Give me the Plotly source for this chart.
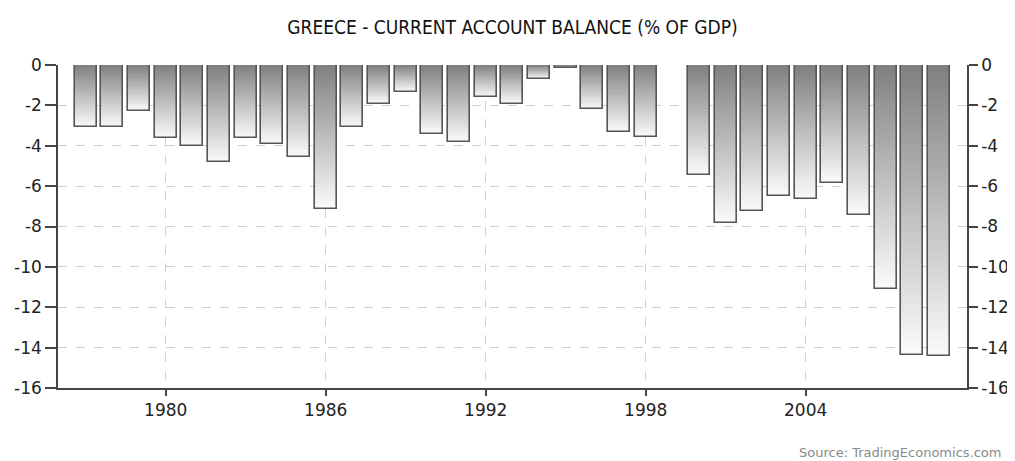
import plotly.graph_objects as go

years = [1977, 1978, 1979, 1980, 1981, 1982, 1983, 1984, 1985, 1986,
         1987, 1988, 1989, 1990, 1991, 1992, 1993, 1994, 1995, 1996,
         1997, 1998, 2000, 2001, 2002, 2003, 2004, 2005, 2006, 2007,
         2008, 2009]
balance = [-3.06, -3.06, -2.28, -3.63, -4.0, -4.82, -3.63, -3.93, -4.57, -7.12,
           -3.06, -1.95, -1.32, -3.4, -3.8, -1.58, -1.91, -0.69, -0.17, -2.2,
           -3.33, -3.55, -5.45, -7.83, -7.21, -6.49, -6.65, -5.86, -7.45, -11.08,
           -14.35, -14.43]
x_ticks = [1980, 1986, 1992, 1998, 2004]
y_ticks = [0, -2, -4, -6, -8, -10, -12, -14, -16]

title = "GREECE - CURRENT ACCOUNT BALANCE (% OF GDP)"
source = "Source: TradingEconomics.com"

fig = go.Figure()

# vertical gradient emulated by overlaid bars of decreasing length
N = 40
top_c = 126
bot_c = 249
bar_w = 0.82
for i in range(N):
    frac = (N - i) / N           # full length first (lightest), shortest last (darkest)
    c = int(round(top_c + (bot_c - top_c) * frac))
    fig.add_trace(go.Bar(
        x=years, y=[v * frac for v in balance], width=bar_w,
        marker=dict(color=f"rgb({c},{c},{c})", line=dict(width=0)),
        hoverinfo="skip", showlegend=False,
    ))

# outline
fig.add_trace(go.Bar(
    x=years, y=balance, width=bar_w,
    marker=dict(color="rgba(0,0,0,0)", line=dict(color="#555555", width=1.6)),
    showlegend=False,
))

# invisible trace for right axis
fig.add_trace(go.Scatter(x=[years[0]], y=[0], yaxis="y2", mode="markers",
                         marker=dict(opacity=0), hoverinfo="skip", showlegend=False))

tick_font = dict(family="DejaVu Sans, Tahoma, sans-serif", size=17, color="#222222")

fig.update_layout(
    width=1007, height=453,
    margin=dict(l=50, r=48, t=57, b=73, autoexpand=False),
    paper_bgcolor="white", plot_bgcolor="white",
    barmode="overlay",
    bargap=0,
    title=dict(text=title, x=0.5, xref="paper", xanchor="center", y=0.958, yanchor="middle",
               font=dict(family="Liberation Sans Narrow, DejaVu Sans Condensed, sans-serif",
                         size=19, color="#111111")),
    xaxis=dict(range=[1975.96, 2010.05], tickvals=x_ticks, ticktext=[str(t) for t in x_ticks],
               showgrid=True, gridcolor="#d0d0d0", griddash="dash", gridwidth=1,
               showline=True, linecolor="#444444", linewidth=1.5,
               ticks="outside", ticklen=6, tickcolor="#444444", tickwidth=1.5,
               tickfont=tick_font, zeroline=False, automargin=False),
    yaxis=dict(range=[-16, 0], tickvals=y_ticks, ticktext=[str(t) for t in y_ticks],
               showgrid=True, gridcolor="#d0d0d0", griddash="dash", gridwidth=1,
               showline=True, linecolor="#444444", linewidth=1.5,
               ticks="outside", ticklen=11, tickcolor="#444444", tickwidth=1.5,
               tickfont=tick_font, zeroline=False, automargin=False),
    yaxis2=dict(range=[-16, 0], tickvals=y_ticks, ticktext=[str(t) for t in y_ticks],
                overlaying="y", side="right", showgrid=False,
                showline=True, linecolor="#444444", linewidth=1.5,
                ticks="outside", ticklen=9, tickcolor="#444444", tickwidth=1.5,
                tickfont=tick_font, zeroline=False, automargin=False),
    annotations=[dict(text=source, xref="paper", yref="paper", x=1.0396, y=-0.201,
                      xanchor="right", yanchor="middle", showarrow=False,
                      font=dict(family="DejaVu Sans, Verdana, sans-serif", size=13, color="#8a8a8a"))],
)

fig.write_html("out.html")
